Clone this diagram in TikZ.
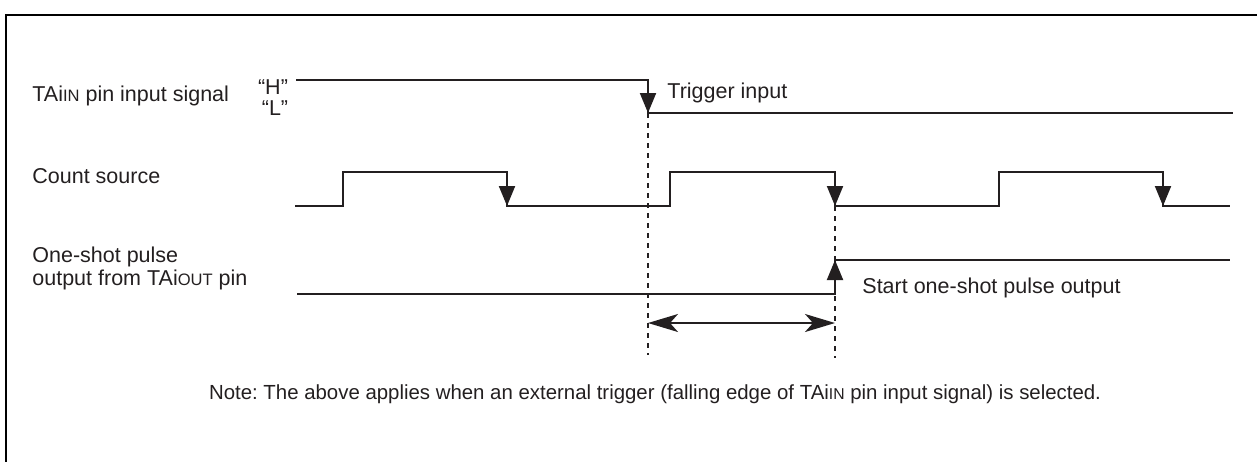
\documentclass[tikz,border=0pt]{standalone}
\usepackage{fontspec}
\setmainfont{Liberation Sans}
\usetikzlibrary{arrows.meta}
\definecolor{TmInk}{HTML}{231F20}
\newcommand{\pinsub}[1]{{\fontsize{0.77\dimexpr\csname f@size\endcsname pt\relax}{9}\selectfont #1}}
\frenchspacing

\begin{document}
\begin{tikzpicture}[x=0.5pt,y=-0.5pt,font=\fontsize{10.75}{11.5}\selectfont,
    wave/.style={line width=1pt,TmInk},
    edgetip/.style={line width=1pt,TmInk,-{Triangle[length=10pt,width=8pt]}},
    guide/.style={line width=0.6pt,TmInk,dash pattern=on 2.6pt off 2.4pt},
    lbl/.style={anchor=base west,inner sep=0pt,text=TmInk}]
  \useasboundingbox (0,0) rectangle (1257,462);
  \draw[line width=1.3pt] (1257,15) -- (6,15) -- (6,462);

  % signal names
  \node[lbl] (inname) at (32,101) {TAi\pinsub{IN} pin input signal};
  \node[lbl,anchor=base] (hlev) at (273,94) {“H”};
  \node[lbl,anchor=base] (llev) at (275,115) {“L”};
  \node[lbl] (cntname) at (32,183) {Count source};
  \node[lbl] (osname) at (32,262) {One-shot pulse};
  \node[lbl] (osname2) at (32,285) {output from TAi\pinsub{OUT} pin};

  % edges that matter
  \coordinate (trig) at (648,113);
  \coordinate (cnt) at (835,206);
  \coordinate (oslo) at (835,294);
  \coordinate (oshi) at (835,260);

  % waveforms
  \draw[wave] (296,80) -- (648,80) -- (trig) -- (1233,113);
  \draw[wave] (295,206) -- (343,206) -- (343,172) -- (507,172) -- (507,206)
    -- (670,206) -- (670,172) -- (835,172) -- (cnt) -- (999,206)
    -- (999,172) -- (1163,172) -- (1163,206) -- (1230,206);
  \draw[wave] (297,294) -- (oslo) -- (oshi) -- (1230,260);

  % edge arrows
  \foreach \ex/\ey in {648/113,507/206,835/206,1163/206}
    \draw[edgetip] (\ex,\ey-26) -- (\ex,\ey);
  \draw[edgetip] (oslo) -- (oshi);

  % dashed guides
  \coordinate (trigend) at (648,355);
  \coordinate (cntend) at (835,358);
  \draw[guide] (trig) -- (trigend);
  \draw[guide] (cnt) -- (cntend);

  % width of the pulse
  \coordinate (wl) at (648,323);
  \coordinate (wr) at (835,323);
  \draw[line width=1pt,TmInk,{Stealth[length=15pt,width=9pt,inset=4pt]}-{Stealth[length=15pt,width=9pt,inset=4pt]}] (wl) -- (wr);

  \node[lbl] (trigtxt) at (667,98) {Trigger input};
  \node[lbl] (starttxt) at (862,293) {Start one-shot pulse output};
  \node[lbl,anchor=base,font=\fontsize{10.2}{11}\selectfont] (note) at (655,399) {Note: The above applies when an external trigger (falling edge of TAi\pinsub{IN} pin input signal) is selected.};
\end{tikzpicture}
\end{document}
